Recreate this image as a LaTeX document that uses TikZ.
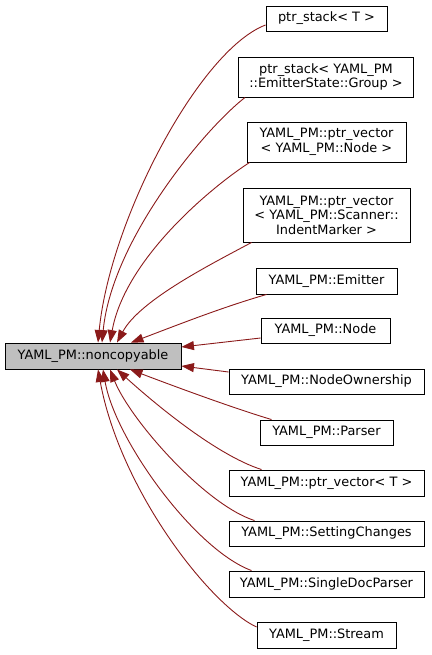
\documentclass[tikz,border=0pt]{standalone}
\usepackage{fontspec}
\setmainfont{DejaVu Sans}
\usepackage{tikz}
\usetikzlibrary{arrows.meta}

\definecolor{edgered}{HTML}{8B1A1A}
\definecolor{basegray}{HTML}{BFBFBF}

\begin{document}
\begin{tikzpicture}[x=1pt,y=-1pt,
	cls/.style={draw=black,line width=0.9pt,fill=white,inner sep=0pt,align=center,
		font=\fontsize{12.9}{14.5}\selectfont},
	inherit/.style={draw=edgered,line width=0.9pt,-{Triangle[length=12.5pt,width=9pt]}}]
	\useasboundingbox (0,0) rectangle (431,655);

	\node[cls,fill=basegray,minimum width=176,minimum height=26] (base) at (93,356) {YAML\_PM::noncopyable};

	\node[cls,minimum width=121,minimum height=25] (pst) at (326.5,18.5) {ptr\_stack< T >};
	\node[cls,minimum width=175,minimum height=40] (grp) at (326,77) {ptr\_stack< YAML\_PM\\::EmitterState::Group >};
	\node[cls,minimum width=159,minimum height=40] (pvn) at (326.5,142) {YAML\_PM::ptr\_vector\\< YAML\_PM::Node >};
	\node[cls,minimum width=167,minimum height=54] (pvi) at (326.5,215) {YAML\_PM::ptr\_vector\\< YAML\_PM::Scanner::\\IndentMarker >};
	\node[cls,minimum width=141,minimum height=26] (emi) at (326.5,281) {YAML\_PM::Emitter};
	\node[cls,minimum width=129,minimum height=25] (nod) at (325.5,330.5) {YAML\_PM::Node};
	\node[cls,minimum width=195,minimum height=25] (own) at (326.5,381.5) {YAML\_PM::NodeOwnership};
	\node[cls,minimum width=133,minimum height=25] (par) at (326.5,432.5) {YAML\_PM::Parser};
	\node[cls,minimum width=195,minimum height=26] (pvt) at (326.5,483) {YAML\_PM::ptr\_vector< T >};
	\node[cls,minimum width=195,minimum height=25] (set) at (326.5,533.5) {YAML\_PM::SettingChanges};
	\node[cls,minimum width=195,minimum height=26] (sdp) at (326.5,584) {YAML\_PM::SingleDocParser};
	\node[cls,minimum width=139,minimum height=26] (str) at (326.5,635) {YAML\_PM::Stream};

	% edges into the top of the base class
	\draw[inherit] ([yshift=-6.5pt]pst.west) .. controls +(-66,25) and +(12,-123) .. ([xshift=5pt]base.north);
	\draw[inherit] ([xshift=7pt]grp.south west) .. controls +(-40,31) and +(10,-103) .. ([xshift=9pt]base.north);
	\draw[inherit] ([xshift=3pt]pvn.south west) .. controls +(-40,26) and +(15,-83) .. ([xshift=17pt]base.north);
	\draw[inherit] ([xshift=9pt]pvi.south west) .. controls +(-37,20) and +(23,-43) .. ([xshift=24pt]base.north);
	\draw[inherit] ([xshift=11pt]emi.south west) .. controls +(-45,13) and +(45,-17) .. ([xshift=38pt]base.north);

	% edges into the right side
	\draw[inherit] ([yshift=-7.5pt]nod.west) -- ([yshift=9pt]base.east);
	\draw[inherit] ([yshift=9.5pt]own.west) -- ([yshift=-10pt]base.east);

	% edges into the bottom
	\draw[inherit] ([xshift=12pt]par.north west) .. controls +(-40,-12) and +(42,16) .. ([xshift=37pt]base.south);
	\draw[inherit] ([xshift=33pt]pvt.north west) .. controls +(-47,-15) and +(33,30) .. ([xshift=24pt]base.south);
	\draw[inherit] ([xshift=26pt]set.north west) .. controls +(-50,-16) and +(20,50) .. ([xshift=17pt]base.south);
	\draw[inherit] ([xshift=23pt]sdp.north west) .. controls +(-57,-21) and +(12,70) .. ([xshift=10pt]base.south);
	\draw[inherit] ([yshift=8pt]str.west) .. controls +(-47,-22) and +(22,120) .. ([xshift=5pt]base.south);
\end{tikzpicture}
\end{document}
